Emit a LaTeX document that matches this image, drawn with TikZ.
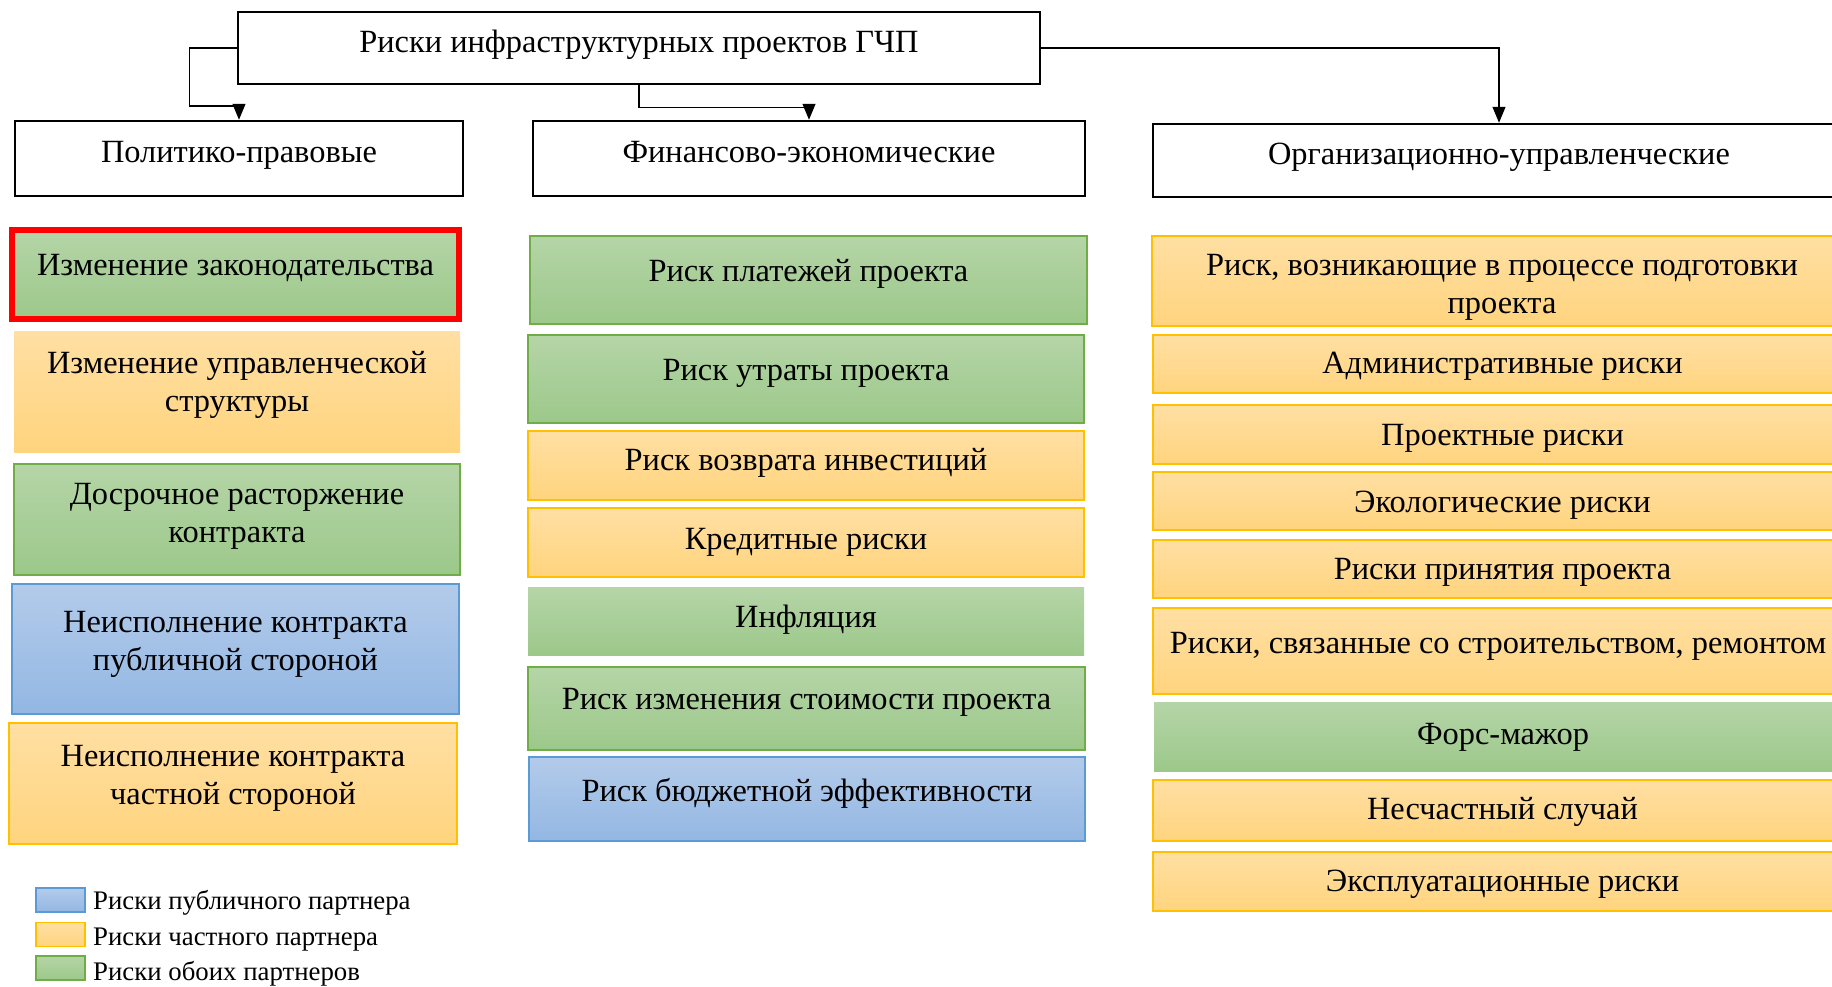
\documentclass[tikz,border=0pt]{standalone}
\usepackage{fontspec}
\setmainfont{Liberation Serif}
\usetikzlibrary{arrows.meta}
\definecolor{gtop}{HTML}{B5D5A7}
\definecolor{gbot}{HTML}{9CC88A}
\definecolor{gline}{HTML}{70AD47}
\definecolor{otop}{HTML}{FFDFA3}
\definecolor{obot}{HTML}{FFD47E}
\definecolor{oline}{HTML}{FFC000}
\definecolor{btop}{HTML}{B3CBEA}
\definecolor{bbot}{HTML}{93B7E3}
\definecolor{bline}{HTML}{5B9BD5}
\tikzset{
  gbox/.style={rectangle, top color=gtop, bottom color=gbot, draw=gline, line width=1.5pt, inner sep=0pt},
  obox/.style={rectangle, top color=otop, bottom color=obot, draw=oline, line width=1.5pt, inner sep=0pt},
  bbox/.style={rectangle, top color=btop, bottom color=bbot, draw=bline, line width=1.5pt, inner sep=0pt},
  nobord/.style={draw=none},
  redbord/.style={draw=red, line width=6pt},
  hdr/.style={rectangle, draw=black, line width=2.5pt, fill=white, inner sep=0pt},
  txt/.style={inner sep=0pt, align=center, font=\fontsize{32.4}{38}\selectfont},
  txtone/.style={txt, text height=21pt, text depth=0pt},
  legtxt/.style={inner sep=0pt, anchor=west, font=\fontsize{26.8}{30}\selectfont, text height=17pt, text depth=0pt},
  conn/.style={line width=1.2pt, -{Triangle[length=16pt,width=13pt]}},
}
\newcommand\rbox[8]{%
  \node[#2, minimum width={#5-#3}, minimum height={#6-#4}] (#1) at ({(#3+#5)/2},{(#4+#6)/2}) {};
  \node[txt] (#1t) at ({(#3+#5)/2},#7) {#8};}
\newcommand\rboxone[8]{%
  \node[#2, minimum width={#5-#3}, minimum height={#6-#4}] (#1) at ({(#3+#5)/2},{(#4+#6)/2}) {};
  \node[txtone] (#1t) at ({(#3+#5)/2},#7) {#8};}
\begin{document}
\begin{tikzpicture}[x=1pt,y=-1pt]
\clip (0,0) rectangle (1832,986);
\fill[white] (0,0) rectangle (1832,986);
% headers
\node[hdr, minimum width=802, minimum height=72] (top) at (639,48) {};
\node[txtone] (topt) at (639,42) {Риски инфраструктурных проектов ГЧП};
\node[hdr, minimum width=448, minimum height=75] (pol) at (239,158.5) {};
\node[txtone] (polt) at (239,151.5) {Политико-правовые};
\node[hdr, minimum width=552, minimum height=75] (fin) at (809,158.5) {};
\node[txtone] (fint) at (809,151.5) {Финансово-экономические};
\node[hdr, minimum width=692, minimum height=73] (org) at (1499,160.5) {};
\node[txtone] (orgt) at (1499,154) {Организационно-управленческие};
% connectors
\draw[conn] (top.west) -| ++(-47,58) -| (pol.north);
\draw[conn] (top.south) -- ++(0,22) -| (fin.north);
\draw[conn] (top.east) -| (org.north);
% left column
\rboxone{l1}{gbox,redbord}{12}{230}{459}{319}{265}{Изменение законодательства}
\rbox{l2}{obox,nobord}{14}{331}{460}{452}{385}{Изменение управленческой\\структуры}
\rbox{l3}{gbox}{14}{464}{460}{575}{516}{Досрочное расторжение\\контракта}
\rbox{l4}{bbox}{12}{584}{459}{714}{644}{Неисполнение контракта\\публичной стороной}
\rbox{l5}{obox}{9}{723}{457}{844}{778}{Неисполнение контракта\\частной стороной}
% middle column
\rboxone{m1}{gbox}{530}{236}{1087}{324}{271}{Риск платежей проекта}
\rboxone{m2}{gbox}{528}{335}{1084}{423}{370}{Риск утраты проекта}
\rboxone{m3}{obox}{528}{431}{1084}{500}{460}{Риск возврата инвестиций}
\rboxone{m4}{obox}{528}{508}{1084}{577}{539}{Кредитные риски}
\rboxone{m5}{gbox,nobord}{528}{587}{1084}{655}{617}{Инфляция}
\rboxone{m6}{gbox}{528}{667}{1085}{750}{699}{Риск изменения стоимости проекта}
\rboxone{m7}{bbox}{529}{757}{1085}{841}{791}{Риск бюджетной эффективности}
% right column
\rbox{r1}{obox}{1152}{236}{1852}{326}{287}{Риск, возникающие в процессе подготовки\\проекта}
\rboxone{r2}{obox}{1153}{335}{1852}{393}{363}{Административные риски}
\rboxone{r3}{obox}{1153}{405}{1852}{464}{435}{Проектные риски}
\rboxone{r4}{obox}{1153}{472}{1852}{530}{502}{Экологические риски}
\rboxone{r5}{obox}{1153}{540}{1852}{598}{569}{Риски принятия проекта}
\rboxone{r6}{obox}{1153}{608}{1843}{694}{643}{Риски, связанные со строительством, ремонтом}
\rboxone{r7}{gbox,nobord}{1154}{702}{1852}{771}{734}{Форс-мажор}
\rboxone{r8}{obox}{1153}{780}{1852}{841}{809}{Несчастный случай}
\rboxone{r9}{obox}{1153}{852}{1852}{911}{881}{Эксплуатационные риски}
% legend
\node[bbox, minimum width=49, minimum height=24] (lgb) at (60.5,900) {};
\node[legtxt] (lgbt) at (93,901) {Риски публичного партнера};
\node[obox, minimum width=49, minimum height=24] (lgo) at (60.5,934.5) {};
\node[legtxt] (lgot) at (93,937) {Риски частного партнера};
\node[gbox, minimum width=49, minimum height=24] (lgg) at (60.5,968) {};
\node[legtxt] (lggt) at (93,972) {Риски обоих партнеров};
\end{tikzpicture}
\end{document}
